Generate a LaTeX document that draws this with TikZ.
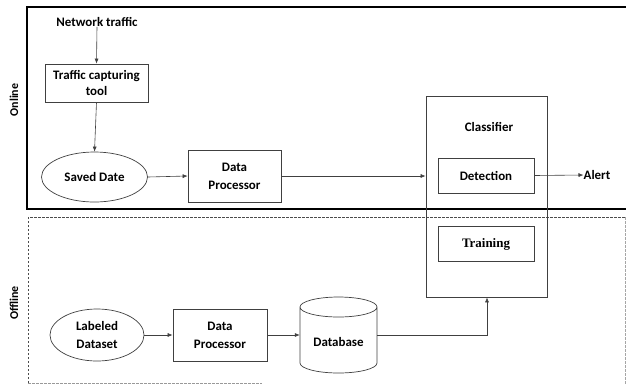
\documentclass[tikz,border=0pt]{standalone}
\usepackage{fontspec}
\setmainfont{Carlito}
\newfontfamily\timesf{Liberation Serif}
\usetikzlibrary{arrows.meta,shapes.geometric}
\begin{document}
\begin{tikzpicture}[x=1bp,y=-1bp,
  every node/.style={font=\bfseries\fontsize{13}{15}\selectfont, inner sep=0pt},
  box/.style={draw=black!75, line width=0.7bp, align=center},
  ell/.style={draw=black!75, line width=0.7bp, ellipse, align=center},
  conn/.style={draw=black!75, line width=0.6bp, -{Latex[length=5bp,width=4bp]}},
  side/.style={rotate=90, font=\bfseries\fontsize{12}{14}\selectfont}]
\useasboundingbox (0,0) rectangle (626,385);
% region frames
\draw[line width=1.4bp] (626,7) -- (27,7) -- (27,209) -- (626,209);
\draw[black!70, line width=0.6bp, dash pattern=on 2.5bp off 1.5bp] (28,383) -- (28,217) -- (625,217);
\draw[black!35, line width=0.6bp, dash pattern=on 2.5bp off 1.5bp] (625,217) -- (625,385);
\draw[black!40, line width=0.6bp, dash pattern=on 2.5bp off 1.5bp] (28,383) -- (262,383);
\node[side] (on) at (14,100) {Online};
\node[side] (off) at (14,303) {Offline};
% online
\node (net) at (97,22) {Network traffic};
\node[box, minimum width=103bp, minimum height=38bp] (tct) at (96.5,83) {Traffic capturing\\[1pt]tool};
\node[ell, minimum width=106bp, minimum height=50bp] (sd) at (94.5,177) {Saved Date};
\node[box, minimum width=93bp, minimum height=52bp] (dp1) at (234.5,176) {Data\\[3pt]Processor};
\node[box, minimum width=121bp, minimum height=201bp] (cls) at (486.5,196.5) {};
\node (clst) at (489,127) {Classifier};
\node[box, minimum width=96bp, minimum height=35bp, fill=white] (det) at (486,175.5) {Detection};
\node[box, minimum width=96bp, minimum height=35bp, font=\timesf\bfseries\fontsize{13}{15}\selectfont] (tr) at (486,244) {Training};
\node (alert) at (597,175) {Alert};
% offline
\node[ell, minimum width=94bp, minimum height=52bp] (ld) at (97,335) {Labeled\\[3pt]Dataset};
\node[box, minimum width=94bp, minimum height=52bp] (dp2) at (220,335) {Data\\[3pt]Processor};
\node[minimum width=77bp, minimum height=76bp] (db) at (338.5,335) {};
\draw[black!75, line width=0.7bp] (300,307) arc[x radius=38.5, y radius=10, start angle=180, end angle=540]
  (300,307) -- (300,363) arc[x radius=38.5, y radius=10, start angle=180, end angle=0] -- (377,307);
\node (dbt) at (338.5,342) {Database};
% connectors
\draw[conn] (net.south) -- (tct.north);
\draw[conn] (tct.south) -- (sd.north);
\draw[conn] (sd.east) -- (dp1.west);
\draw[conn] (dp1.east) -- (cls.west |- dp1.east);
\draw[conn] (det.east) -- (alert.west);
\draw[conn] (ld.east) -- (dp2.west);
\draw[conn] (dp2.east) -- (db.west |- dp2.east);
\draw[conn] (db.east |- dp2.east) -- (487,335) -- (cls.south -| 487,0);
\end{tikzpicture}
\end{document}
